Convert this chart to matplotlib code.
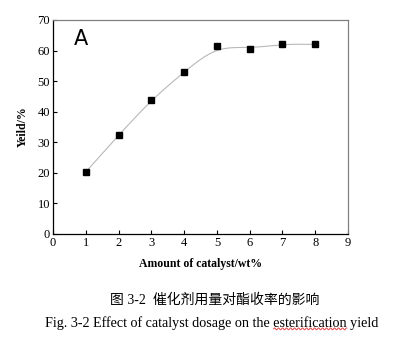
import numpy as np
import matplotlib.pyplot as plt

catalyst = [1, 2, 3, 4, 5, 6, 7, 8]
yield_pct = [20.3, 32.3, 43.9, 53.0, 61.6, 60.6, 62.2, 62.0]

caption_cn = "图 3-2  催化剂用量对酯收率的影响"
caption_en = "Fig. 3-2 Effect of catalyst dosage on the esterification yield"
marked_word = "esterification"


def bspline(x, y, n=40):
    # clamped uniform cubic B-spline using the points as control points
    px = np.r_[[x[0]] * 2, x, [x[-1]] * 2].astype(float)
    py = np.r_[[y[0]] * 2, y, [y[-1]] * 2].astype(float)
    t = np.linspace(0, 1, n)[:, None]
    b = np.hstack([(1 - t) ** 3, 3 * t ** 3 - 6 * t ** 2 + 4,
                   -3 * t ** 3 + 3 * t ** 2 + 3 * t + 1, t ** 3]) / 6
    xs, ys = [], []
    for i in range(len(px) - 3):
        xs.append(b @ px[i:i + 4])
        ys.append(b @ py[i:i + 4])
    return np.concatenate(xs), np.concatenate(ys)


plt.rcParams['font.family'] = ['Liberation Serif', 'Noto Sans CJK SC']

fig = plt.figure(figsize=(3.95, 3.43), dpi=100)
ax = fig.add_axes([53 / 395, 1 - 234 / 343, 295 / 395, 214 / 343])

sx, sy = bspline(catalyst, yield_pct)
ax.plot(sx, sy, color='#b8b8b8', lw=0.8, zorder=1)
ax.plot(catalyst, yield_pct, 's', color='black', ms=4.5, zorder=2)

ax.set_xlim(0, 9)
ax.set_ylim(0, 70)
ax.set_xticks(range(10))
ax.set_yticks(range(0, 71, 10))
ax.tick_params(direction='in', length=3, width=0.8, labelsize=9, pad=2)
for s in ['top', 'right']:
    ax.spines[s].set_color('#808080')
for s in ax.spines.values():
    s.set_linewidth(0.9)

ax.set_xlabel('Amount of catalyst/wt%', fontsize=8.5, fontweight='bold', labelpad=7)
ax.set_ylabel('Yeild/%', fontsize=8.5, fontweight='bold', labelpad=6)
ax.text(0.07, 0.96, 'A', transform=ax.transAxes, fontsize=15,
        family='DejaVu Sans', va='top', ha='left')

fig.text(215 / 395, 1 - 300 / 343, caption_cn, fontsize=10, ha='center', va='center',
         family=['Liberation Serif', 'Noto Sans CJK SC'])
en = fig.text(212 / 395, 1 - 323 / 343, caption_en, fontsize=10.2, ha='center', va='center')

# red wavy spell-check underline below the marked word
fig.canvas.draw()
r = fig.canvas.get_renderer()
bb = en.get_window_extent(r)
start = caption_en.index(marked_word)
tmp = fig.text(0, 0, caption_en[:start], fontsize=10.2)
w0 = tmp.get_window_extent(r).width
tmp.set_text(marked_word)
w1 = tmp.get_window_extent(r).width
tmp.remove()
wx = np.linspace(bb.x0 + w0, bb.x0 + w0 + w1, 120)
wy = bb.y0 + 1.0 + 1.0 * np.sin((wx - wx[0]) * np.pi / 2)
fig.add_artist(plt.Line2D(wx / fig.bbox.width, wy / fig.bbox.height,
                          color='#e03030', lw=0.6))

fig.savefig('out.png', dpi=100)
